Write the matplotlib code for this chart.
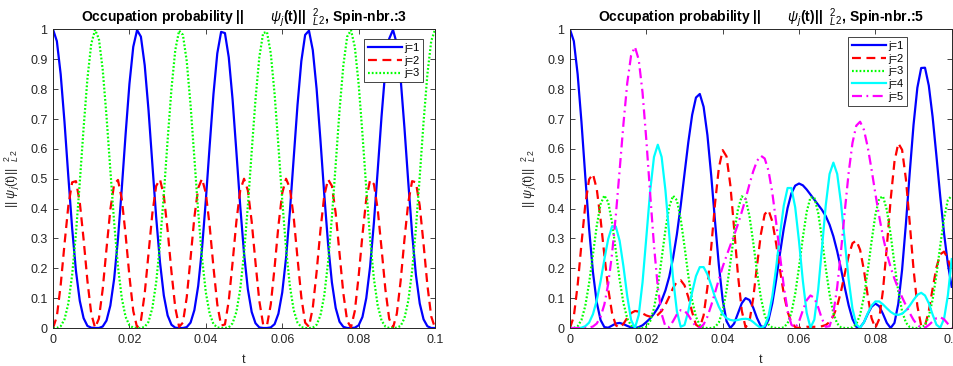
import numpy as np
import matplotlib
matplotlib.use("Agg")
import matplotlib.pyplot as plt

plt.rcParams['font.family'] = ['Liberation Sans', 'DejaVu Sans']
plt.rcParams['mathtext.fontset'] = 'custom'
plt.rcParams['mathtext.rm'] = 'Liberation Sans'
plt.rcParams['mathtext.it'] = 'Liberation Sans:italic'
plt.rcParams['mathtext.bf'] = 'Liberation Sans:bold'

# time grid (0 .. 0.1, step 0.001)
t = np.linspace(0, 0.1, 101)

# spin chain with 3 sites
p3_j1 = [1.000, 0.961, 0.850, 0.690, 0.508, 0.334, 0.191, 0.091, 0.033, 0.007,
         0.001, 0.000, 0.000, 0.005, 0.025, 0.075, 0.165, 0.299, 0.468, 0.650,
         0.818, 0.942, 0.998, 0.976, 0.880, 0.729, 0.549, 0.371, 0.220, 0.109,
         0.042, 0.011, 0.001, 0.000, 0.000, 0.003, 0.018, 0.060, 0.141, 0.266,
         0.428, 0.610, 0.784, 0.920, 0.992, 0.988, 0.907, 0.766, 0.590, 0.409,
         0.250, 0.130, 0.054, 0.016, 0.002, 0.000, 0.000, 0.002, 0.013, 0.048,
         0.119, 0.235, 0.390, 0.569, 0.747, 0.894, 0.982, 0.996, 0.931, 0.801,
         0.630, 0.448, 0.282, 0.153, 0.067, 0.021, 0.004, 0.000, 0.000, 0.001,
         0.009, 0.037, 0.100, 0.205, 0.353, 0.529, 0.709, 0.866, 0.969, 0.999,
         0.952, 0.835, 0.670, 0.488, 0.317, 0.178, 0.082, 0.029, 0.006, 0.000,
         0.000]
p3_j2 = [0.000, 0.039, 0.144, 0.281, 0.409, 0.488, 0.492, 0.421, 0.297, 0.158,
         0.048, 0.001, 0.031, 0.130, 0.266, 0.397, 0.482, 0.496, 0.432, 0.312,
         0.173, 0.057, 0.002, 0.024, 0.116, 0.250, 0.384, 0.476, 0.498, 0.443,
         0.327, 0.188, 0.068, 0.004, 0.018, 0.103, 0.234, 0.371, 0.469, 0.500,
         0.452, 0.342, 0.203, 0.079, 0.008, 0.012, 0.091, 0.219, 0.357, 0.461,
         0.500, 0.461, 0.357, 0.219, 0.091, 0.012, 0.008, 0.079, 0.203, 0.342,
         0.452, 0.500, 0.469, 0.371, 0.234, 0.103, 0.018, 0.004, 0.068, 0.188,
         0.327, 0.443, 0.498, 0.476, 0.384, 0.250, 0.116, 0.024, 0.002, 0.057,
         0.173, 0.312, 0.432, 0.496, 0.482, 0.397, 0.266, 0.130, 0.031, 0.001,
         0.048, 0.158, 0.297, 0.421, 0.492, 0.488, 0.409, 0.281, 0.144, 0.039,
         0.000]
p3_j3 = [0.000, 0.000, 0.006, 0.029, 0.082, 0.178, 0.317, 0.488, 0.670, 0.835,
         0.952, 0.999, 0.969, 0.866, 0.709, 0.529, 0.353, 0.205, 0.100, 0.037,
         0.009, 0.001, 0.000, 0.000, 0.004, 0.021, 0.067, 0.153, 0.282, 0.448,
         0.630, 0.801, 0.931, 0.996, 0.982, 0.894, 0.747, 0.569, 0.390, 0.235,
         0.119, 0.048, 0.013, 0.002, 0.000, 0.000, 0.002, 0.016, 0.054, 0.130,
         0.250, 0.409, 0.590, 0.766, 0.907, 0.988, 0.992, 0.920, 0.784, 0.610,
         0.428, 0.266, 0.141, 0.060, 0.018, 0.003, 0.000, 0.000, 0.001, 0.011,
         0.042, 0.109, 0.220, 0.371, 0.549, 0.729, 0.880, 0.976, 0.998, 0.942,
         0.818, 0.650, 0.468, 0.299, 0.165, 0.075, 0.025, 0.005, 0.000, 0.000,
         0.001, 0.007, 0.033, 0.091, 0.191, 0.334, 0.508, 0.690, 0.850, 0.961,
         1.000]

# spin chain with 5 sites
p5_j1 = [1.000, 0.961, 0.850, 0.690, 0.508, 0.333, 0.188, 0.086, 0.027, 0.003,
         0.001, 0.008, 0.015, 0.017, 0.013, 0.007, 0.002, 0.000, 0.003, 0.009,
         0.020, 0.032, 0.048, 0.067, 0.092, 0.126, 0.172, 0.235, 0.314, 0.410,
         0.517, 0.623, 0.714, 0.772, 0.784, 0.741, 0.646, 0.510, 0.356, 0.210,
         0.094, 0.023, 0.000, 0.015, 0.049, 0.083, 0.100, 0.094, 0.068, 0.033,
         0.006, 0.002, 0.027, 0.083, 0.161, 0.249, 0.333, 0.402, 0.451, 0.477,
         0.484, 0.478, 0.464, 0.447, 0.430, 0.413, 0.396, 0.375, 0.346, 0.307,
         0.257, 0.198, 0.135, 0.076, 0.030, 0.004, 0.002, 0.019, 0.047, 0.071,
         0.082, 0.073, 0.047, 0.017, 0.000, 0.017, 0.081, 0.195, 0.349, 0.520,
         0.681, 0.805, 0.871, 0.872, 0.812, 0.707, 0.576, 0.440, 0.316, 0.214,
         0.138]
p5_j2 = [0.000, 0.039, 0.144, 0.282, 0.413, 0.498, 0.516, 0.466, 0.365, 0.244,
         0.132, 0.051, 0.009, 0.001, 0.014, 0.034, 0.050, 0.057, 0.055, 0.049,
         0.042, 0.038, 0.038, 0.044, 0.057, 0.078, 0.105, 0.134, 0.155, 0.160,
         0.143, 0.103, 0.053, 0.011, 0.002, 0.042, 0.136, 0.271, 0.418, 0.537,
         0.596, 0.575, 0.479, 0.333, 0.178, 0.058, 0.002, 0.021, 0.100, 0.210,
         0.314, 0.381, 0.395, 0.357, 0.283, 0.195, 0.115, 0.055, 0.019, 0.003,
         0.000, 0.002, 0.004, 0.004, 0.004, 0.004, 0.006, 0.010, 0.020, 0.040,
         0.074, 0.123, 0.183, 0.242, 0.284, 0.293, 0.262, 0.194, 0.108, 0.033,
         0.000, 0.030, 0.127, 0.272, 0.430, 0.557, 0.619, 0.597, 0.499, 0.352,
         0.197, 0.074, 0.008, 0.007, 0.057, 0.132, 0.203, 0.247, 0.256, 0.232,
         0.187]
p5_j3 = [0.000, 0.000, 0.006, 0.027, 0.074, 0.150, 0.245, 0.342, 0.415, 0.444,
         0.422, 0.354, 0.259, 0.162, 0.083, 0.032, 0.008, 0.001, 0.000, 0.000,
         0.004, 0.023, 0.066, 0.138, 0.232, 0.329, 0.407, 0.443, 0.428, 0.365,
         0.273, 0.175, 0.092, 0.037, 0.010, 0.001, 0.000, 0.000, 0.003, 0.019,
         0.058, 0.126, 0.218, 0.317, 0.398, 0.441, 0.433, 0.376, 0.287, 0.188,
         0.102, 0.043, 0.012, 0.002, 0.000, 0.000, 0.002, 0.016, 0.051, 0.115,
         0.204, 0.303, 0.389, 0.438, 0.437, 0.387, 0.300, 0.201, 0.113, 0.049,
         0.015, 0.002, 0.000, 0.000, 0.002, 0.013, 0.044, 0.105, 0.191, 0.290,
         0.379, 0.434, 0.441, 0.396, 0.313, 0.215, 0.123, 0.056, 0.018, 0.003,
         0.000, 0.000, 0.001, 0.010, 0.039, 0.095, 0.178, 0.276, 0.368, 0.429,
         0.443]
p5_j4 = [0.000, 0.000, 0.000, 0.001, 0.006, 0.018, 0.046, 0.092, 0.156, 0.230,
         0.298, 0.340, 0.340, 0.292, 0.206, 0.106, 0.027, 0.000, 0.043, 0.153,
         0.305, 0.459, 0.573, 0.614, 0.573, 0.461, 0.312, 0.166, 0.056, 0.004,
         0.010, 0.057, 0.120, 0.174, 0.204, 0.204, 0.180, 0.143, 0.103, 0.071,
         0.047, 0.033, 0.027, 0.025, 0.027, 0.030, 0.031, 0.029, 0.020, 0.009,
         0.000, 0.007, 0.040, 0.106, 0.202, 0.312, 0.410, 0.469, 0.469, 0.404,
         0.290, 0.158, 0.051, 0.001, 0.028, 0.126, 0.267, 0.411, 0.516, 0.554,
         0.516, 0.418, 0.289, 0.162, 0.065, 0.012, 0.001, 0.019, 0.049, 0.075,
         0.089, 0.089, 0.079, 0.066, 0.054, 0.046, 0.044, 0.048, 0.059, 0.075,
         0.094, 0.111, 0.118, 0.109, 0.083, 0.045, 0.011, 0.001, 0.031, 0.110,
         0.231]
p5_j5 = [0.000, 0.000, 0.000, 0.000, 0.000, 0.001, 0.005, 0.015, 0.037, 0.079,
         0.147, 0.247, 0.377, 0.529, 0.684, 0.821, 0.913, 0.942, 0.899, 0.789,
         0.629, 0.449, 0.276, 0.137, 0.047, 0.005, 0.003, 0.023, 0.046, 0.060,
         0.058, 0.043, 0.022, 0.005, 0.000, 0.012, 0.038, 0.076, 0.119, 0.163,
         0.205, 0.242, 0.277, 0.311, 0.348, 0.389, 0.433, 0.481, 0.525, 0.560,
         0.577, 0.568, 0.527, 0.453, 0.355, 0.244, 0.140, 0.058, 0.011, 0.001,
         0.022, 0.059, 0.093, 0.109, 0.101, 0.070, 0.031, 0.004, 0.006, 0.050,
         0.137, 0.258, 0.393, 0.520, 0.620, 0.678, 0.691, 0.664, 0.606, 0.531,
         0.450, 0.374, 0.306, 0.249, 0.203, 0.165, 0.132, 0.103, 0.076, 0.050,
         0.027, 0.010, 0.001, 0.001, 0.010, 0.022, 0.033, 0.036, 0.029, 0.014,
         0.001]

xticks = [0, 0.02, 0.04, 0.06, 0.08, 0.1]
xticklabels = ['0', '0.02', '0.04', '0.06', '0.08', '0.1']
yticks = [0, 0.1, 0.2, 0.3, 0.4, 0.5, 0.6, 0.7, 0.8, 0.9, 1]
yticklabels = ['0', '0.1', '0.2', '0.3', '0.4', '0.5', '0.6', '0.7', '0.8', '0.9', '1']

styles = {
    1: dict(color=(0, 0, 1), ls='-'),
    2: dict(color=(1, 0, 0), ls=(0, (4, 2.5))),
    3: dict(color=(0, 1, 0), ls=(0, (0.8, 0.9))),
    4: dict(color=(0, 1, 1), ls='-'),
    5: dict(color=(1, 0, 1), ls=(0, (4.5, 2, 0.8, 2))),
}

fig = plt.figure(figsize=(9.54, 3.66), dpi=100)
ax1 = fig.add_axes([0.0556, 0.1038, 0.4004, 0.8156])
ax2 = fig.add_axes([0.5975, 0.1038, 0.4001, 0.8156])

def setup(ax, n):
    ax.set_xlim(0, 0.1)
    ax.set_ylim(0, 1)
    ax.set_xticks(xticks)
    ax.set_xticklabels(xticklabels)
    ax.set_yticks(yticks)
    ax.set_yticklabels(yticklabels)
    ax.tick_params(direction='in', top=True, right=True, length=3.5, width=0.6,
                   labelsize=9, colors='0.15', pad=4)
    for s in ax.spines.values():
        s.set_linewidth(0.7)
        s.set_color('0.15')
    ax.set_xlabel('t', fontsize=9, color='0.15', labelpad=6)
    ax.set_ylabel(r'|| $\psi_j$(t)||  ${}^{2}_{L}{}_{2}$', fontsize=9, color='0.15', labelpad=6)
    ax.set_title(r'Occupation probability ||       $\psi_j$(t)||  ${}^{2}_{L}{}_{2}$, Spin-nbr.:' + str(n),
                 fontsize=10, fontweight='bold', pad=6)

series3 = [p3_j1, p3_j2, p3_j3]
for j, p in enumerate(series3, start=1):
    ax1.plot(t, p, lw=1.6, label='j=%d' % j, **styles[j])
setup(ax1, 3)
leg1 = ax1.legend(loc='upper right', bbox_to_anchor=(0.969, 0.968), borderaxespad=0,
                  fontsize=8, handlelength=3.1, handletextpad=0.15, labelspacing=0.25,
                  borderpad=0.35, fancybox=False, framealpha=1)
leg1.get_frame().set_edgecolor('0.15')
leg1.get_frame().set_linewidth(0.6)

series5 = [p5_j1, p5_j2, p5_j3, p5_j4, p5_j5]
for j, p in enumerate(series5, start=1):
    ax2.plot(t, p, lw=1.6, label='j=%d' % j, **styles[j])
setup(ax2, 5)
leg2 = ax2.legend(loc='upper right', bbox_to_anchor=(0.883, 0.975), borderaxespad=0,
                  fontsize=8, handlelength=3.1, handletextpad=0.15, labelspacing=0.25,
                  borderpad=0.35, fancybox=False, framealpha=1)
leg2.get_frame().set_edgecolor('0.15')
leg2.get_frame().set_linewidth(0.6)

fig.savefig('out.png', dpi=100)
